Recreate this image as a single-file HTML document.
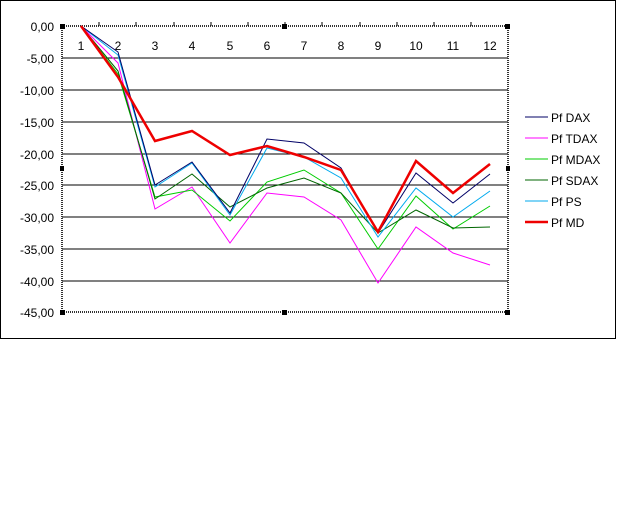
<!DOCTYPE html>
<html><head><style>body{margin:0;background:#fff}svg{display:block}text{font-family:"Liberation Sans",sans-serif;font-size:12px;fill:#000}</style></head><body>
<svg width="640" height="512" viewBox="0 0 640 512">
<rect x="0.5" y="0.5" width="615" height="338" fill="#fff" stroke="#000"/>
<g stroke="#000" stroke-width="1">
<line x1="62" y1="58" x2="508" y2="58"/><line x1="62" y1="90" x2="508" y2="90"/><line x1="62" y1="122" x2="508" y2="122"/><line x1="62" y1="154" x2="508" y2="154"/><line x1="62" y1="185" x2="508" y2="185"/><line x1="62" y1="217" x2="508" y2="217"/><line x1="62" y1="249" x2="508" y2="249"/><line x1="62" y1="281" x2="508" y2="281"/>
</g>
<g stroke="#333" stroke-width="2" stroke-dasharray="1,1" fill="none">
<line x1="62" y1="26" x2="508" y2="26"/><line x1="62" y1="26" x2="62" y2="312"/><line x1="62" y1="312" x2="508" y2="312"/><line x1="508" y1="26" x2="508" y2="312"/>
</g>
<g stroke="#000"><line x1="99" y1="22" x2="99" y2="26"/><line x1="136" y1="22" x2="136" y2="26"/><line x1="174" y1="22" x2="174" y2="26"/><line x1="211" y1="22" x2="211" y2="26"/><line x1="248" y1="22" x2="248" y2="26"/><line x1="285" y1="22" x2="285" y2="26"/><line x1="322" y1="22" x2="322" y2="26"/><line x1="360" y1="22" x2="360" y2="26"/><line x1="397" y1="22" x2="397" y2="26"/><line x1="434" y1="22" x2="434" y2="26"/><line x1="471" y1="22" x2="471" y2="26"/></g>
<g fill="#000"><rect x="60" y="24" width="5" height="5"/><rect x="505" y="24" width="5" height="5"/><rect x="60" y="310" width="5" height="5"/><rect x="505" y="310" width="5" height="5"/><rect x="282" y="24" width="5" height="5"/><rect x="282" y="310" width="5" height="5"/><rect x="60" y="166" width="4" height="5"/><rect x="506" y="166" width="4" height="5"/></g>
<g text-anchor="end">
<text x="54" y="31">0,00</text><text x="54" y="63">-5,00</text><text x="54" y="95">-10,00</text><text x="54" y="127">-15,00</text><text x="54" y="159">-20,00</text><text x="54" y="190">-25,00</text><text x="54" y="222">-30,00</text><text x="54" y="254">-35,00</text><text x="54" y="286">-40,00</text><text x="54" y="317">-45,00</text>
</g>
<g text-anchor="middle">
<text x="81" y="50">1</text><text x="118" y="50">2</text><text x="155" y="50">3</text><text x="192" y="50">4</text><text x="230" y="50">5</text><text x="267" y="50">6</text><text x="304" y="50">7</text><text x="341" y="50">8</text><text x="378" y="50">9</text><text x="416" y="50">10</text><text x="453" y="50">11</text><text x="490" y="50">12</text>
</g>
<g fill="none" stroke-width="1">
<polyline stroke="#ff00ff" points="81,26 118,63 155,209 192,187 230,243 267,193 304,197 341,220 378,283 416,227 453,253 490,265"/>
<polyline stroke="#00cc00" points="81,26 118,74 155,197 192,190 230,221 267,182 304,170 341,193 378,249 416,196 453,229 490,206"/>
<polyline stroke="#006600" points="81,26 118,71 155,199 192,174 230,207 267,188 304,178 341,193 378,233 416,210 453,228 490,227"/>
<polyline stroke="#00aaee" points="81,26 118,55 155,187 192,163 230,215 267,148 304,157 341,178 378,237 416,188 453,217 490,191"/>
<polyline stroke="#000066" points="81,26 118,52 155,185 192,162 230,213 267,139 304,143 341,168 378,233 416,173 453,203 490,174"/>
<polyline stroke="#ee0000" stroke-width="2.5" points="81,26 118,77 155,141 192,131 230,155 267,146 304,157 341,170 378,232 416,161 453,193 490,164"/>
</g>
<g stroke-width="1">
<line x1="525" y1="117" x2="548" y2="117" stroke="#000066"/>
<line x1="525" y1="138" x2="548" y2="138" stroke="#ff00ff"/>
<line x1="525" y1="159" x2="548" y2="159" stroke="#00cc00"/>
<line x1="525" y1="180" x2="548" y2="180" stroke="#006600"/>
<line x1="525" y1="201" x2="548" y2="201" stroke="#00aaee"/>
<line x1="525" y1="222" x2="548" y2="222" stroke="#ee0000" stroke-width="2.5"/>
</g>
<text x="551" y="122">Pf DAX</text><text x="551" y="143">Pf TDAX</text><text x="551" y="164">Pf MDAX</text><text x="551" y="185">Pf SDAX</text><text x="551" y="206">Pf PS</text><text x="551" y="227">Pf MD</text>
</svg>
</body></html>
